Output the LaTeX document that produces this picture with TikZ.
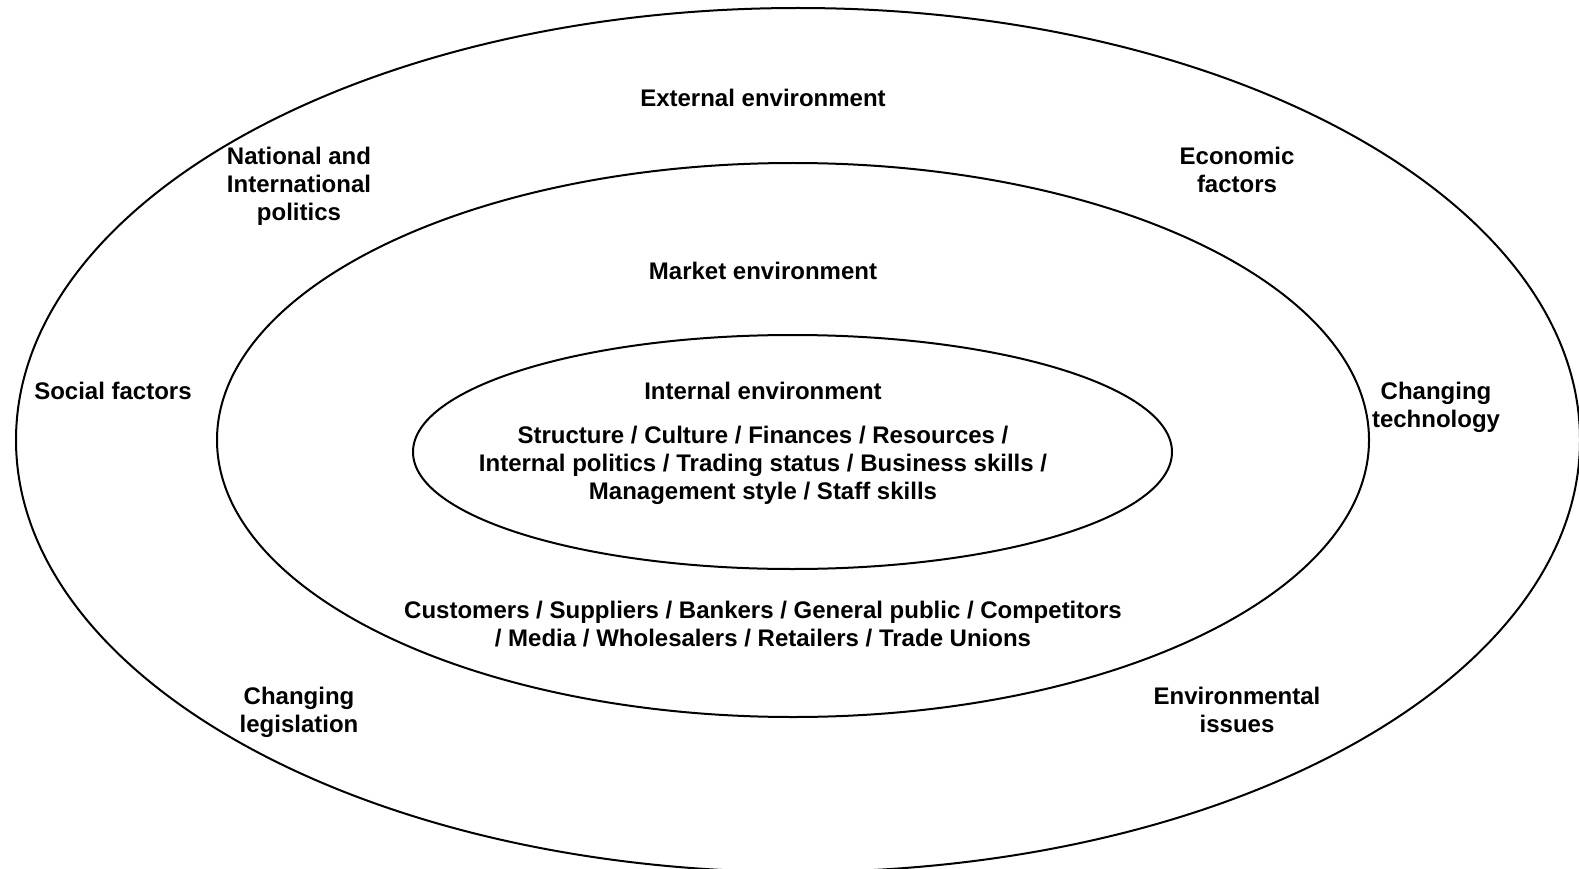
\documentclass[tikz,border=0pt]{standalone}
\usepackage{fontspec}
\setmainfont{Liberation Sans}
\begin{document}
\begin{tikzpicture}[x=1pt,y=-1pt,
  ring/.style={draw=black,line width=2pt},
  lbl/.style={align=center,inner sep=0pt,font=\fontsize{24}{28}\selectfont\bfseries}]
\useasboundingbox (0,0) rectangle (1579,869);
\clip (0,0) rectangle (1579,869);
\fill[white] (0,0) rectangle (1579,869);
\draw[ring] (798,440) ellipse [x radius=782pt, y radius=432pt];
\draw[ring] (793,440) ellipse [x radius=576pt, y radius=277pt];
\draw[ring] (792.5,452) ellipse [x radius=379.5pt, y radius=117pt];
\node[lbl] (ext) at (763,98) {External environment};
\node[lbl] (pol) at (299,186) {National and\\International\\politics};
\node[lbl] (eco) at (1237,170) {Economic\\factors};
\node[lbl] (mkt) at (763,271) {Market environment};
\node[lbl] (soc) at (113,391) {Social factors};
\node[lbl] (tech) at (1436,407) {Changing\\technology};
\node[lbl] (int) at (763,391) {Internal environment};
\node[lbl] (intlist) at (763,465) {Structure / Culture / Finances / Resources /\\Internal politics / Trading status / Business skills /\\Management style / Staff skills};
\node[lbl] (mktlist) at (763,624) {Customers / Suppliers / Bankers / General public / Competitors\\/ Media / Wholesalers / Retailers / Trade Unions};
\node[lbl] (leg) at (299,712) {Changing\\legislation};
\node[lbl] (env) at (1237,710) {Environmental\\issues};
\end{tikzpicture}
\end{document}
